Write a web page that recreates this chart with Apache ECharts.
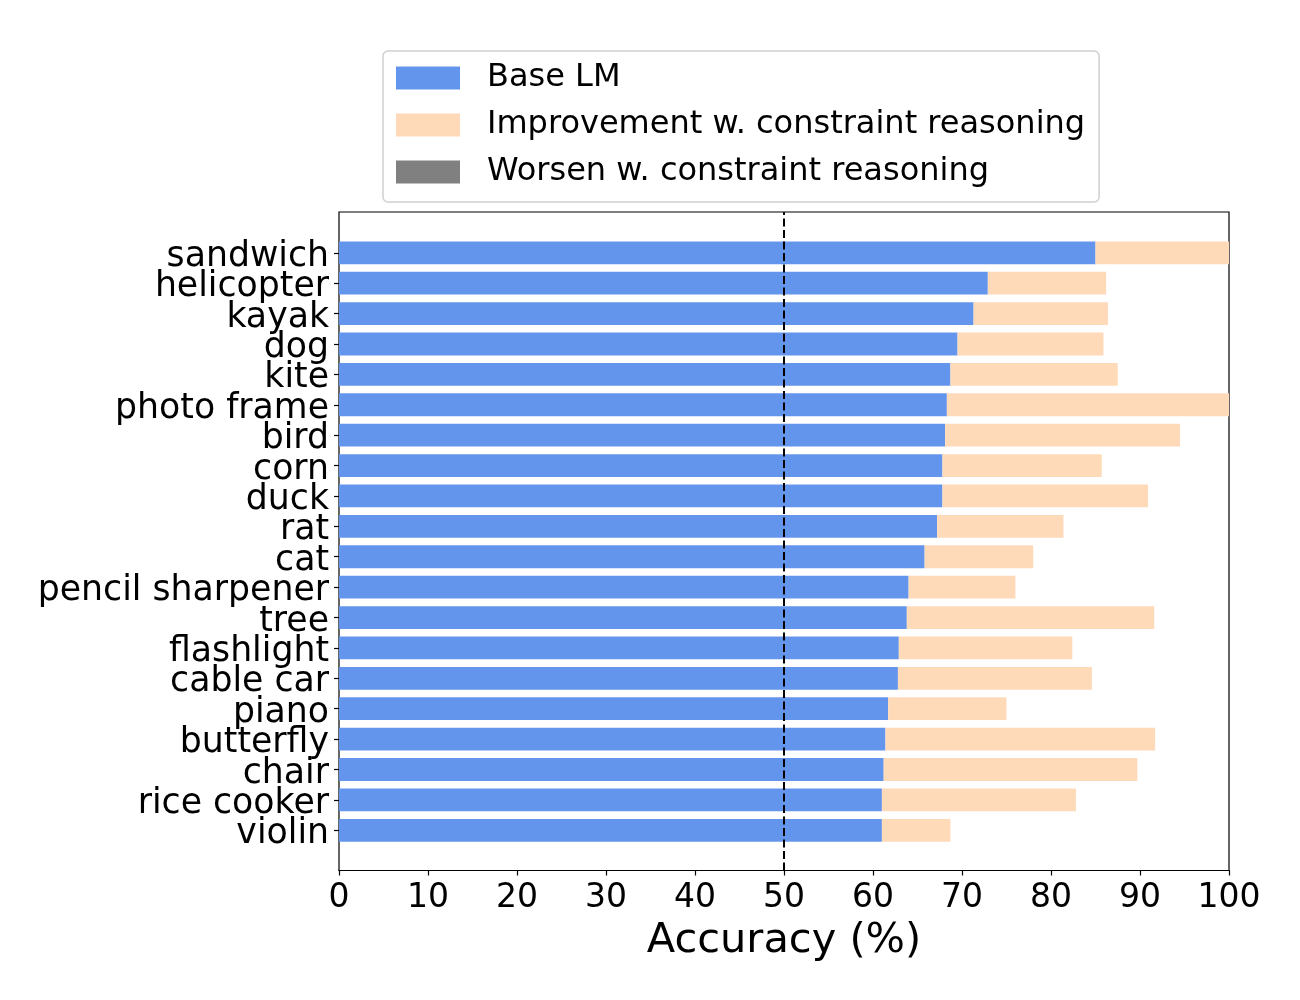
<!DOCTYPE html>
<html>
<head>
<meta charset="utf-8">
<script src="https://cdn.jsdelivr.net/npm/echarts@6/dist/echarts.min.js"></script>
<style>
html,body{margin:0;padding:0;background:#fff;}
#chart{width:1300px;height:1000px;}
</style>
</head>
<body>
<div id="chart"></div>
<script>
const categories = ["sandwich","helicopter","kayak","dog","kite","photo frame","bird","corn","duck","rat","cat","pencil sharpener","tree","flashlight","cable car","piano","butterfly","chair","rice cooker","violin"];
const baseLM = [85.0,72.9,71.3,69.5,68.7,68.3,68.1,67.8,67.8,67.2,65.8,64.0,63.8,62.9,62.8,61.7,61.4,61.2,61.0,61.0];
const withReasoning = [100,86.2,86.4,85.9,87.5,100,94.5,85.7,90.9,81.4,78.0,76.0,91.6,82.4,84.6,75.0,91.7,89.7,82.8,68.7];
const worsen = [0,0,0,0,0,0,0,0,0,0,0,0,0,0,0,0,0,0,0,0];
const improvement = withReasoning.map((t, i) => +(t - baseLM[i]).toFixed(2));
const chanceLevel = 50;
const xTicks = {min: 0, max: 100, interval: 10};

const FONT = 'DejaVu Sans';
const chart = echarts.init(document.getElementById('chart'));
chart.setOption({
  backgroundColor: '#fff',
  animation: false,
  legend: {
    orient: 'vertical',
    left: 383,
    top: 51,
    padding: [11, 14, 14, 13],
    itemWidth: 64,
    itemHeight: 23,
    itemGap: 15,
    icon: 'rect',
    borderColor: '#d0d0d0',
    borderWidth: 1.5,
    borderRadius: 5,
    textStyle: {fontFamily: FONT, fontSize: 32, color: '#000', padding: [0, 0, 0, 22]},
    data: ['Base LM', 'Improvement w. constraint reasoning', 'Worsen w. constraint reasoning']
  },
  grid: [
    {left: 339, right: 71, top: 212, bottom: 129.5, show: true, borderColor: '#000', borderWidth: 1.2, backgroundColor: 'transparent'},
    {left: 339, right: 71, top: 237.6, bottom: 154.5}
  ],
  xAxis: [
    {
      gridIndex: 0, type: 'value', min: xTicks.min, max: xTicks.max, interval: xTicks.interval,
      name: 'Accuracy (%)', nameLocation: 'middle', nameGap: 50,
      nameTextStyle: {fontFamily: FONT, fontSize: 41.5, color: '#000'},
      axisLine: {show: true, lineStyle: {color: '#000', width: 1.2}},
      axisTick: {show: true, inside: false, length: 5, lineStyle: {color: '#000', width: 1.2}},
      axisLabel: {fontFamily: FONT, fontSize: 33, color: '#000', margin: 11},
      splitLine: {show: false}
    },
    {
      gridIndex: 1, type: 'value', min: xTicks.min, max: xTicks.max, show: false,
      splitLine: {show: false}
    }
  ],
  yAxis: [
    {gridIndex: 0, type: 'value', min: 0, max: 1, show: false, splitLine: {show: false}},
    {
      gridIndex: 1, type: 'category', data: categories, inverse: true,
      axisLine: {show: false},
      axisTick: {show: true, inside: false, length: 5, alignWithLabel: true, lineStyle: {color: '#000', width: 1.2}},
      axisLabel: {fontFamily: FONT, fontSize: 34.7, color: '#000', margin: 10, interval: 0, verticalAlign: 'top', lineHeight: 8},
      splitLine: {show: false}
    }
  ],
  series: [
    {
      name: 'Base LM', type: 'bar', xAxisIndex: 1, yAxisIndex: 1, stack: 'acc',
      data: baseLM, barWidth: '75%', itemStyle: {color: '#6495ED'}
    },
    {
      name: 'Improvement w. constraint reasoning', type: 'bar', xAxisIndex: 1, yAxisIndex: 1, stack: 'acc',
      data: improvement, barWidth: '75%', itemStyle: {color: '#FFDAB9'}
    },
    {
      name: 'Worsen w. constraint reasoning', type: 'bar', xAxisIndex: 1, yAxisIndex: 1, stack: 'acc',
      data: worsen, barWidth: '75%', itemStyle: {color: '#808080'}
    },
    {
      type: 'line', xAxisIndex: 0, yAxisIndex: 0, z: 10,
      data: [[chanceLevel, 0], [chanceLevel, 1]],
      symbol: 'none', silent: true,
      lineStyle: {color: '#000', width: 2, type: [8, 3.5]}
    }
  ]
});
</script>
</body>
</html>
